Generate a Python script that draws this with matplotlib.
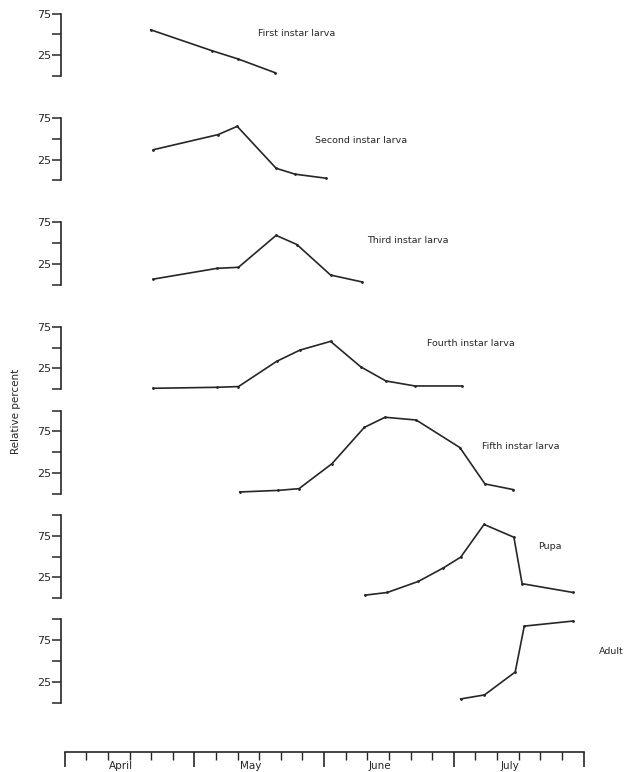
import numpy as np
import matplotlib
matplotlib.use("Agg")
import matplotlib.pyplot as plt
from matplotlib.ticker import MultipleLocator

# days counted from 1 April, 30 days per month on the drawn scale
STAGES = ["First instar larva", "Second instar larva", "Third instar larva",
          "Fourth instar larva", "Fifth instar larva", "Pupa", "Adult"]

first_days = [19.9, 34.0, 40.2, 48.7]
first_pct = [55.5, 30.5, 20.3, 3.9]

second_days = [20.5, 35.5, 39.9, 48.9, 53.3, 60.4]
second_pct = [36.9, 55.1, 65.0, 14.6, 7.5, 2.7]

third_days = [20.5, 35.3, 40.2, 48.9, 53.7, 61.5, 68.7]
third_pct = [6.9, 19.9, 21.1, 59.5, 48.5, 11.8, 3.6]

fourth_days = [20.5, 35.3, 40.2, 49.0, 54.4, 61.5, 68.5, 74.3, 81.0, 91.8]
fourth_pct = [1.2, 2.4, 3.3, 33.5, 47.1, 57.6, 26.9, 10.0, 4.0, 4.0]

fifth_days = [40.5, 49.4, 54.2, 61.8, 69.3, 74.1, 81.3, 91.4, 97.2, 103.8]
fifth_pct = [2.1, 4.0, 6.1, 36.0, 79.7, 91.9, 88.6, 55.5, 11.8, 4.9]

pupa_days = [69.5, 74.6, 81.8, 87.6, 91.6, 97.0, 103.9, 105.8, 117.6]
pupa_pct = [3.6, 6.8, 20.1, 36.4, 49.3, 88.6, 73.2, 17.4, 6.8]

adult_days = [91.6, 97.1, 104.2, 106.3, 117.6]
adult_pct = [4.4, 9.2, 36.7, 91.9, 98.0]

MONTHS = ["April", "May", "June", "July"]

series = [(first_days, first_pct), (second_days, second_pct),
          (third_days, third_pct), (fourth_days, fourth_pct),
          (fifth_days, fifth_pct), (pupa_days, pupa_pct),
          (adult_days, adult_pct)]
axis_top = [75, 75, 75, 75, 100, 100, 100]
# label anchors (day, percent)
label_pos = [(44.7, 51), (57.9, 48), (69.9, 53), (83.7, 55.6),
             (96.6, 56.2), (109.4, 61.9), (123.6, 61.3)]

W, H = 626, 772
INK = "#262626"
FONT = "DejaVu Sans"

fig = plt.figure(figsize=(W / 100, H / 100), dpi=100, facecolor="white")

x0_px = 64.7                 # 1 April
px_per_day = 129.7 / 30
spine_px, right_px = 61, 600
px_per_unit = 0.832
first_base, step = 76, 104.43

xlim = ((spine_px - x0_px) / px_per_day, (right_px - x0_px) / px_per_day)

for i, ((d, p), top, name, lp) in enumerate(zip(series, axis_top, STAGES, label_pos)):
    yb = first_base + step * i
    h = 100 * px_per_unit
    ax = fig.add_axes([spine_px / W, 1 - yb / H, (right_px - spine_px) / W, h / H])
    ax.set_xlim(*xlim)
    ax.set_ylim(0, 100)
    ax.patch.set_alpha(0)
    for s in ["top", "right", "bottom"]:
        ax.spines[s].set_visible(False)
    ax.spines["left"].set_bounds(0, top)
    ax.spines["left"].set_linewidth(1.2)
    ax.spines["left"].set_color(INK)
    ticks = list(range(0, top + 1, 25))
    ax.set_yticks(ticks)
    ax.set_yticklabels([str(t) if t in (25, 75) else "" for t in ticks])
    ax.tick_params(axis="y", direction="out", length=6.5, width=1.1, color=INK,
                   pad=0.5, labelsize=8, labelcolor=INK)
    ax.set_xticks([])
    ax.plot(d, p, color=INK, lw=1.2, marker="o", ms=1.0, clip_on=False)
    ax.text(lp[0], lp[1], name, fontsize=6.8, color=INK, family=FONT,
            ha="left", va="center", clip_on=False)

# shared month axis at the bottom
axx = fig.add_axes([x0_px / W, 1 - 752 / H, (120 * px_per_day) / W, 0.01])
axx.set_xlim(0, 120)
axx.patch.set_alpha(0)
for s in ["top", "right", "left"]:
    axx.spines[s].set_visible(False)
axx.spines["bottom"].set_linewidth(1.2)
axx.spines["bottom"].set_color(INK)
axx.set_yticks([])
axx.xaxis.set_major_locator(MultipleLocator(30))
axx.xaxis.set_minor_locator(MultipleLocator(5))
axx.tick_params(axis="x", which="major", direction="out", length=11, width=1.2,
                color=INK, labelbottom=False)
axx.tick_params(axis="x", which="minor", direction="out", length=6, width=1.0,
                color=INK)
for k, m in enumerate(MONTHS):
    fig.text((x0_px + (13 + 30 * k) * px_per_day) / W, 1 - 766 / H, m,
             fontsize=7.5, color=INK, ha="center", va="center", family=FONT)

fig.text(16 / W, 1 - 411 / H, "Relative percent", rotation=90, fontsize=7.5,
         color=INK, ha="center", va="center", family=FONT)

fig.savefig("out.png", dpi=100, facecolor="white")
